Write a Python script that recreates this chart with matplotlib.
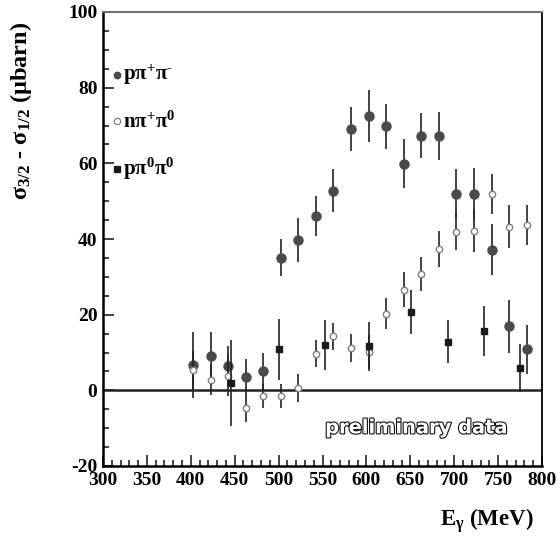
import matplotlib
matplotlib.use("Agg")
import matplotlib.pyplot as plt
import matplotlib.patheffects as pe
from matplotlib.ticker import MultipleLocator

plt.rcParams["mathtext.fontset"] = "custom"
plt.rcParams["mathtext.rm"] = "Liberation Serif:bold"
plt.rcParams["mathtext.it"] = "Liberation Serif:bold"
plt.rcParams["mathtext.bf"] = "Liberation Serif:bold"
plt.rcParams["mathtext.default"] = "rm"
plt.rcParams["axes.unicode_minus"] = False

# Photon energy grid (MeV) for the charged channels
e_gamma = [402.5, 422.5, 442.5, 462.5, 482.5, 502.5, 522.5, 542.5, 562.5, 582.5,
           602.5, 622.5, 642.5, 662.5, 682.5, 702.5, 722.5, 742.5, 762.5, 782.5]

# p pi+ pi-
ppm_val = [6.8, 9.2, 6.3, 3.4, 5.0, 35.1, 39.7, 46.0, 52.8, 69.0,
           72.5, 69.8, 59.9, 67.3, 67.3, 52.0, 52.0, 37.2, 17.0, 10.8]
ppm_err = [8.7, 6.1, 5.3, 4.9, 4.9, 5.0, 5.8, 5.3, 5.6, 5.8,
           6.9, 5.9, 6.5, 6.0, 6.3, 6.4, 6.7, 6.8, 7.0, 6.5]

# n pi+ pi0
npz_val = [5.4, 2.7, 3.9, -4.8, -1.5, -1.5, 0.6, 9.7, 14.3, 11.2,
           10.1, 20.3, 26.6, 30.7, 37.4, 41.9, 42.1, 51.9, 43.3, 43.7]
npz_err = [5.0, 4.0, 5.5, 3.6, 3.3, 3.3, 3.8, 3.5, 3.6, 3.8,
           4.5, 4.0, 4.6, 4.5, 4.7, 4.9, 5.5, 5.4, 5.6, 5.2]

# p pi0 pi0
pzz_e = [445.5, 500.5, 553.0, 603.5, 650.5, 693.5, 734.0, 774.5]
pzz_val = [1.9, 10.8, 12.1, 11.6, 20.6, 12.9, 15.7, 5.9]
pzz_err = [11.3, 8.1, 6.6, 6.5, 5.8, 5.7, 6.5, 6.3]

legend_labels = [r"$p\pi^{+}\pi^{\text{-}}$", r"$n\pi^{+}\pi^{0}$",
                 r"$p\pi^{0}\pi^{0}$"]

W, H = 560, 543
fig = plt.figure(figsize=(W / 100, H / 100), dpi=100)
ax = fig.add_axes([103 / W, 1 - 466 / H, (542 - 103) / W, (466 - 12) / H])

ax.axhline(0, color="#222222", lw=1.8, zorder=1)

ax.errorbar(e_gamma, ppm_val, yerr=ppm_err, fmt="o", ms=6.5, color="#4a4a4a",
            mfc="#4a4a4a", mec="#4a4a4a", ecolor="#222222", elinewidth=1.2,
            capsize=0, zorder=3)
ax.errorbar(e_gamma, npz_val, yerr=npz_err, fmt="o", ms=4.6, mfc="white",
            mec="#808080", mew=1.0, ecolor="#222222", elinewidth=1.2,
            capsize=0, zorder=4)
ax.errorbar(pzz_e, pzz_val, yerr=pzz_err, fmt="s", ms=4.5, mfc="#1a1a1a",
            mec="#1a1a1a", ecolor="#222222", elinewidth=1.2, capsize=0, zorder=5)

ax.set_xlim(300, 800)
ax.set_ylim(-20, 100)
ax.xaxis.set_major_locator(MultipleLocator(50))
ax.xaxis.set_minor_locator(MultipleLocator(10))
ax.yaxis.set_major_locator(MultipleLocator(20))
ax.yaxis.set_minor_locator(MultipleLocator(5))
ax.tick_params(which="both", direction="in", top=False, right=False, width=1.2,
               color="#222222")
ax.tick_params(which="major", length=8, labelsize=14, pad=4)
ax.tick_params(which="minor", length=4)
for lab in ax.get_xticklabels() + ax.get_yticklabels():
    lab.set_fontfamily("Liberation Serif")
    lab.set_fontweight("bold")

ax.spines["left"].set_linewidth(1.8)
ax.spines["bottom"].set_linewidth(1.8)
ax.spines["right"].set_linewidth(1.3)
ax.spines["top"].set_linewidth(1.4)
ax.spines["top"].set_color("#707070")

# Legend drawn by hand in the upper-left corner
leg_y = [0.862, 0.76, 0.655]
leg_style = [dict(marker="o", ms=4.6, mfc="#4a4a4a", mec="#4a4a4a"),
             dict(marker="o", ms=4.6, mfc="white", mec="#808080", mew=0.9),
             dict(marker="s", ms=4.2, mfc="#1a1a1a", mec="#1a1a1a")]
for y, st, lab in zip(leg_y, leg_style, legend_labels):
    ax.plot([0.032], [y], transform=ax.transAxes, ls="none", clip_on=False, **st)
    ax.text(0.045, y, lab, transform=ax.transAxes, fontsize=15, va="center",
            ha="left")

txt = ax.text(0.714, 0.084, "preliminary data", transform=ax.transAxes,
              fontsize=14, fontweight="bold", family="DejaVu Sans",
              color="white", ha="center", va="center")
txt.set_path_effects([pe.withStroke(linewidth=1.6, foreground="#111111")])

fig.text(21 / W, 1 - 111 / H, r"$\sigma_{3/2}$ - $\sigma_{1/2}$ (μbarn)",
         rotation=90, ha="center", va="center", fontsize=17.5,
         family="Liberation Serif", fontweight="bold")
fig.text(487 / W, 1 - 521 / H, r"$E_{\gamma}$ (MeV)", ha="center", va="center",
         fontsize=16.5, family="Liberation Serif", fontweight="bold")

fig.savefig("out.png", dpi=100)
